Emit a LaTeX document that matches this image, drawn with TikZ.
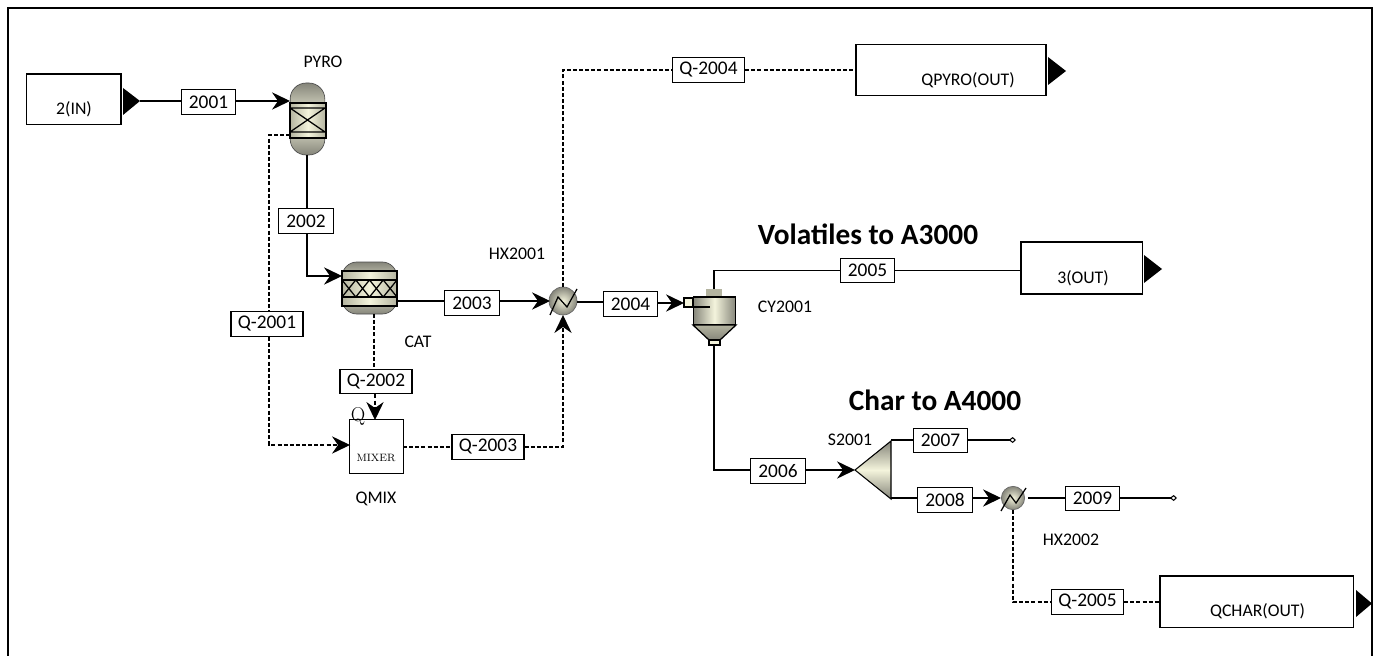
\documentclass[tikz,border=0pt]{standalone}
\usepackage{fontspec}
\setmainfont{Carlito}
\usetikzlibrary{arrows.meta,calc}
\definecolor{eqdark}{HTML}{85857A}
\definecolor{eqmid}{HTML}{B4B4A0}
\definecolor{eqlight}{HTML}{F4F4DC}
\tikzset{
  x=0.75pt,y=-0.75pt,
  frameline/.style={line width=1.9pt,black},
  stream/.style={line width=0.9pt,black},
  heat/.style={line width=0.9pt,black,dash pattern=on 3pt off 1.6pt},
  flowtip/.style={-{Stealth[length=13.5pt,width=13pt,inset=4.5pt]}},
  endtip/.style={-{Kite[open,fill=white,length=5.5pt,width=4.5pt,inset=3pt,line width=0.8pt]}},
  tag/.style={draw=black,line width=0.95pt,fill=white,font=\fontsize{14.5}{15}\selectfont,inner sep=0pt,minimum height=18.5pt},
  tagn/.style={tag,minimum width=41pt},
  tagq/.style={tag,minimum width=54pt},
  port/.style={draw=black,line width=1pt,fill=white,inner sep=0pt},
  porttip/.style={fill=black,draw=none},
  lab/.style={font=\fontsize{13.3}{15}\selectfont,inner sep=0pt},
  head/.style={font=\bfseries\fontsize{22}{24}\selectfont,inner sep=0pt},
  vessel/.style={draw=black!70,line width=0.5pt,top color=eqdark,bottom color=eqdark,middle color=eqlight},
  bed/.style={draw=black,line width=0.95pt,left color=eqmid,right color=eqmid,middle color=eqlight},
  hxball/.style={circle,draw=black!60,line width=0.5pt,inner sep=0pt,inner color=eqlight,outer color=eqdark},
  zig/.style={line width=0.95pt,black},
}
\begin{document}
\begin{tikzpicture}
\useasboundingbox (0,0) rectangle (1378,656);
\draw[frameline] (8,656) -- (8,8) -- (1372,8) -- (1372,656);

% ports
\node[port,minimum width=71pt,minimum height=38pt] (in2) at (73.5,99.5) {};
\node[lab] (in2t) at (74,109) {2(IN)};
\fill[porttip] (123,88) -- (140,101) -- (123,115) -- cycle;
\coordinate (in2tip) at (140,101);
\node[port,minimum width=142.5pt,minimum height=38.5pt] (qpyro) at (951,70) {};
\node[lab] (qpyrot) at (968,80) {QPYRO(OUT)};
\fill[porttip] (1048,57) -- (1066,71) -- (1048,85) -- cycle;
\node[port,minimum width=91pt,minimum height=39pt] (out3) at (1081.5,268) {};
\node[lab] (out3t) at (1083,278) {3(OUT)};
\fill[porttip] (1144,255) -- (1162,269) -- (1144,283) -- cycle;
\node[port,minimum width=145pt,minimum height=38.5pt] (qchar) at (1256.5,601.5) {};
\node[lab] (qchart) at (1257.5,611) {QCHAR(OUT)};
\fill[porttip] (1356,590) -- (1372,603.5) -- (1356,617) -- cycle;

% PYRO
\node[vessel,rounded corners=12pt,minimum width=26pt,minimum height=54pt,inner sep=0pt] (pyro) at (307.5,119) {};
\draw[bed] (290,103) rectangle (326,138);
\draw[line width=0.95pt] (290,108) -- (326,108) (290,132) -- (326,132)
  (290,108) -- (325,132) (290,132) -- (325,108);
\node[lab] (pyrot) at (323,62) {PYRO};

% CAT
\node[vessel,rounded corners=11pt,minimum width=41pt,minimum height=39pt,inner sep=0pt] (cat) at (369.5,288) {};
\draw[bed] (342,271) rectangle (397,306);
\draw[line width=0.95pt] (342,280) -- (397,280) (342,297) -- (397,297);
\foreach \xa in {342,355.75,369.5,383.25}{
  \draw[line width=0.95pt] (\xa,280) -- ({\xa+13.75},297) (\xa,297) -- ({\xa+13.75},280);
}
\node[lab] (catt) at (418,342) {CAT};

% HX2001
\node[hxball,minimum size=21pt] (hxa) at (563,301) {};
\draw[zig] (550,315) -- (558,297) -- (567,307) -- (577,289);
\node[lab] (hxat) at (517,254) {HX2001};

% cyclone
\fill[eqmid,draw=eqmid,line width=0.5pt] (706,289) rectangle (721,297);
\node[draw=black,line width=0.95pt,inner sep=0pt,minimum width=32pt,minimum height=21pt,left color=eqdark,right color=eqdark,middle color=eqlight] (cy) at (714.5,311) {};
\path[draw=black,line width=0.95pt,top color=eqmid,bottom color=eqdark] (693,325) -- (736,325) -- (720,340) -- (709,340) -- cycle;
\draw[line width=0.8pt,fill=eqlight] (709,340) rectangle (720,345);
\draw[line width=0.95pt,fill=eqlight] (684,298) rectangle (693,307);
\draw[line width=0.95pt] (693,307) -- (710,307);
\coordinate (cytop) at (714,289);
\coordinate (cybot) at (714,345);
\coordinate (cyin) at (684,303);
\node[lab] (cyt) at (785,307) {CY2001};

% mixer
\node[draw=black,line width=0.95pt,fill=white,minimum width=40pt,minimum height=40pt,inner sep=0pt] (mix) at (376.5,446.5) {};
\node[inner sep=0pt] (mixq) at (358,416) {\fontspec{Latin Modern Roman}\fontsize{15}{15}\selectfont Q};
\node[inner sep=0pt] (mixt) at (376,458) {\fontspec{Latin Modern Roman}\fontsize{8}{9}\selectfont MIXER};
\node[lab] (mixl) at (376,499) {QMIX};

% splitter
\path[draw=black,line width=0.8pt,top color=eqdark,bottom color=eqdark,middle color=eqlight] (855,470) -- (891,441) -- (891,499) -- cycle;
\coordinate (stip) at (855,470);
\coordinate (stop) at (891,440);
\coordinate (sbot) at (891,498);
\node[lab] (st) at (850,440) {S2001};

% HX2002
\node[hxball,minimum size=17.5pt] (hxb) at (1013,498) {};
\draw[zig] (1001,511) -- (1010,495) -- (1016,503) -- (1026,488);
\node[lab] (hxbt) at (1071,540) {HX2002};

% headings
\node[head] (vol) at (868,234) {Volatiles to A3000};
\node[head] (chr) at (935,400) {Char to A4000};

% stream tags
\node[tagn] (s2001) at (208.5,102) {2001};
\node[tagn] (s2002) at (306,221) {2002};
\node[tagn] (s2003) at (472,303) {2003};
\node[tagn] (s2004) at (630.5,304) {2004};
\node[tagn] (s2005) at (867.5,270.5) {2005};
\node[tagn] (s2006) at (778,471) {2006};
\node[tagn] (s2007) at (940.5,440.5) {2007};
\node[tagn] (s2008) at (945,500) {2008};
\node[tagn] (s2009) at (1092.5,498.5) {2009};
\node[tagq] (q2001) at (267,324) {Q-2001};
\node[tagq] (q2002) at (376,381.5) {Q-2002};
\node[tagq] (q2003) at (488,447) {Q-2003};
\node[tagq] (q2004) at (708.5,70) {Q-2004};
\node[tagq] (q2005) at (1087.5,602) {Q-2005};

% free ends and bends
\coordinate (pyroin) at (290,101);
\coordinate (pyroout) at (307,155);
\coordinate (pyroq) at (290,135);
\coordinate (qx) at (269,135);
\coordinate (catin) at (342,276);
\coordinate (catq) at (374,314);
\coordinate (catout) at (397,301);
\coordinate (mixin) at (350,445);
\coordinate (mixout) at (403,447);
\coordinate (mixtop) at (375,420);
\coordinate (hxain) at (550,301);
\coordinate (hxaout) at (577,302);
\coordinate (hxab) at (563,315);
\coordinate (hxat2) at (563,287);
\coordinate (hxbin) at (1001,498);
\coordinate (hxbout) at (1028,498);
\coordinate (hxbb) at (1013,510);
\coordinate (e2007) at (1016,440);
\coordinate (e2009) at (1177,498);
\coordinate (qbend) at (563,447);
\coordinate (s6line) at (714,470);

% connectors
\draw[stream] (in2tip) -- (in2tip -| s2001.west);
\draw[stream,flowtip] (s2001.east |- pyroin) -- (pyroin);
\draw[stream] (pyroout) -- (s2002.north -| pyroout);
\draw[stream,flowtip] (s2002.south -| pyroout) |- (catin);
\draw[stream] (catout) -- (catout -| s2003.west);
\draw[stream,flowtip] (s2003.east |- hxain) -- (hxain);
\draw[stream] (hxaout) -- (hxaout -| s2004.west);
\draw[stream,flowtip] (s2004.east |- cyin) -- (cyin);
\draw[stream] (cytop) |- (s2005.west);
\draw[stream] (s2005.east) -- (s2005.east -| out3.west);
\draw[stream] (cybot) -- (s6line) -- (s6line -| s2006.west);
\draw[stream,flowtip] (s2006.east |- stip) -- (stip);
\draw[stream] (stop) -- (stop -| s2007.west);
\draw[stream,endtip] (s2007.east |- e2007) -- (e2007);
\draw[stream] (sbot) -- (sbot -| s2008.west);
\draw[stream,flowtip] (s2008.east |- hxbin) -- (hxbin);
\draw[stream] (hxbout) -- (hxbout -| s2009.west);
\draw[stream,endtip] (s2009.east |- e2009) -- (e2009);

\draw[heat] (pyroq) -- (qx) -- (q2001.north -| qx);
\draw[heat,flowtip] (q2001.south -| qx) |- (mixin);
\draw[heat] (catq) -- (catq |- q2002.north);
\draw[heat,flowtip] (q2002.south -| mixtop) -- (mixtop);
\draw[heat] (mixout) -- (q2003.west);
\draw[heat,flowtip] (q2003.east) -- (qbend) -- (hxab);
\draw[heat] (hxat2) |- (q2004.west);
\draw[heat] (q2004.east) -- (qpyro.west |- q2004.east);
\draw[heat] (hxbb) |- (q2005.west);
\draw[heat] (q2005.east) -- (qchar.west |- q2005.east);
\end{tikzpicture}
\end{document}
